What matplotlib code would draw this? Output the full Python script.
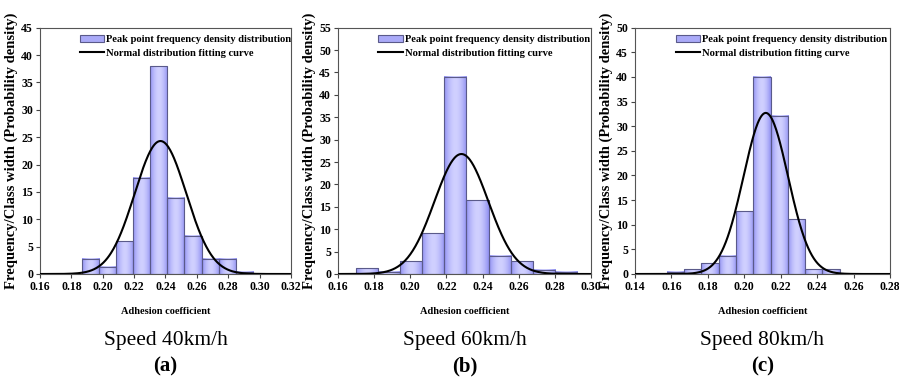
import numpy as np
import matplotlib
matplotlib.use("Agg")
from matplotlib import pyplot as plt
from matplotlib.colors import LinearSegmentedColormap
from matplotlib.patches import Patch
from matplotlib.lines import Line2D

plt.rcParams['font.family'] = ['Liberation Serif', 'DejaVu Serif']

# histogram data (probability density per bin)
a_start = 0.187
a_width = 0.01085
a_density = [2.75, 1.35, 5.95, 17.6, 37.95, 13.9, 7.0, 2.75, 2.75, 0.45]
a_mu, a_sigma = 0.2368, 0.01642

b_start = 0.1698
b_width = 0.01225
b_density = [1.3, 0.45, 2.9, 9.1, 44.1, 16.5, 4.1, 2.9, 0.9, 0.45]
b_mu, b_sigma = 0.2283, 0.01489

c_start = 0.1479
c_width = 0.0095
c_density = [0.1, 0.5, 1.0, 2.15, 3.7, 12.7, 40.0, 32.1, 11.1, 1.0, 1.0, 0.1, 0.1]
c_mu, c_sigma = 0.2118, 0.0122

speeds = ['Speed 40km/h', 'Speed 60km/h', 'Speed 80km/h']
letters = ['(a)', '(b)', '(c)']
xlims = [(0.16, 0.32), (0.16, 0.30), (0.14, 0.28)]
ylims = [45, 55, 50]

panels = [
    (a_start, a_width, a_density, a_mu, a_sigma),
    (b_start, b_width, b_density, b_mu, b_sigma),
    (c_start, c_width, c_density, c_mu, c_sigma),
]

cmap = LinearSegmentedColormap.from_list('bar', ['#9090f2', '#d0d0ff'])
ramp = 1 - np.abs(np.linspace(-1, 1, 64)) ** 1.8
ramp = ramp.reshape(1, -1)

fig = plt.figure(figsize=(8.99, 3.81), dpi=100)
lefts = [40 / 899, 338 / 899, 635 / 899]
widths = [251 / 899, 253 / 899, 255 / 899]
bottom = 1 - 274 / 381
height = (274 - 27.7) / 381

for i, (start, width, dens, mu, sigma) in enumerate(panels):
    ax = fig.add_axes([lefts[i], bottom, widths[i], height])
    edges = start + width * np.arange(len(dens) + 1)
    for j, h in enumerate(dens):
        ax.imshow(ramp, extent=[edges[j], edges[j + 1], 0, h], aspect='auto',
                  cmap=cmap, vmin=0, vmax=1, zorder=1, interpolation='bilinear')
    ax.bar(edges[:-1], dens, width=width, align='edge', fill=False,
           edgecolor='#5a5a8a', linewidth=0.8, zorder=2)

    x0, x1 = xlims[i]
    xs = np.linspace(x0, x1, 400)
    ys = np.exp(-(xs - mu) ** 2 / (2 * sigma ** 2)) / (sigma * np.sqrt(2 * np.pi))
    ax.plot(xs, ys, color='black', lw=1.5, zorder=3)

    ax.set_xlim(x0, x1)
    ax.set_ylim(0, ylims[i])
    ticks = np.arange(x0, x1 + 1e-9, 0.02)
    ax.set_xticks(ticks)
    ax.set_xticklabels(['%.2f' % t for t in ticks])
    ax.set_yticks(np.arange(0, ylims[i] + 1, 5))
    for lab in ax.get_xticklabels() + ax.get_yticklabels():
        lab.set_fontweight('bold')
        lab.set_fontsize(8.5)
    ax.tick_params(length=3, width=0.8, color='#444444', pad=2)
    for s in ax.spines.values():
        s.set_color('#555555')
        s.set_linewidth(0.8)

    ax.set_ylabel('Frequency/Class width (Probability density)',
                  fontsize=10.5, fontweight='bold', labelpad=2)

    handles = [Patch(facecolor='#aaaaf8', edgecolor='#5a5a8a', lw=0.8),
               Line2D([], [], color='black', lw=1.5)]
    ax.legend(handles, ['Peak point frequency density distribution',
                        'Normal distribution fitting curve'],
              loc='upper left', bbox_to_anchor=(0.13, 1.0), frameon=False,
              prop={'weight': 'bold', 'size': 7.6}, handlelength=2.3,
              handletextpad=0.2, labelspacing=0.35, borderaxespad=0.3)

    cx = lefts[i] + widths[i] / 2
    fig.text(cx, 1 - 311 / 381, 'Adhesion coefficient', ha='center', va='center',
             fontsize=7.5, fontweight='bold')
    fig.text(cx, 1 - 340 / 381, speeds[i], ha='center', va='center', fontsize=15.5)
    fig.text(cx, 1 - 366 / 381, letters[i], ha='center', va='center',
             fontsize=15, fontweight='bold')

fig.savefig('out.png', dpi=100)
